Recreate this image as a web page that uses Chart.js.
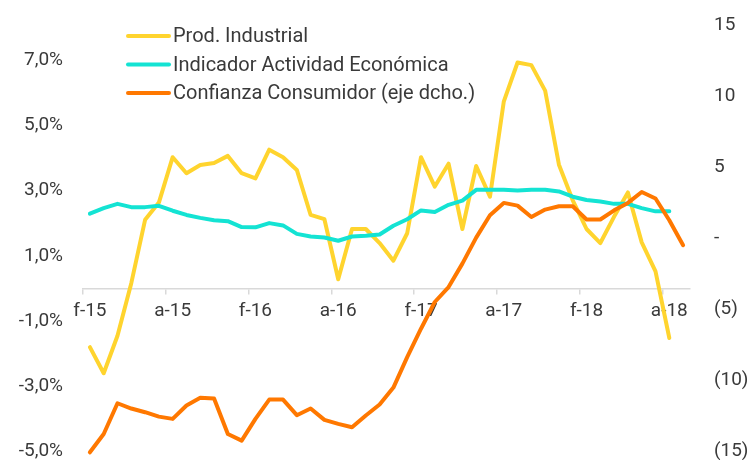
<!DOCTYPE html>
<html>
<head>
<meta charset="utf-8">
<script src="https://cdn.jsdelivr.net/npm/chart.js@4/dist/chart.umd.min.js"></script>
<style>
  html, body { margin: 0; padding: 0; background: #fff; overflow: hidden; }
  #wrap { position: relative; width: 753px; height: 460px; }
</style>
</head>
<body>
<div id="wrap"><canvas id="c" width="753" height="460"></canvas></div>
<script>
const categories = [
  'f-15','m-15','a-15','m-15','j-15','j-15','a-15','s-15','o-15','n-15','d-15',
  'e-16','f-16','m-16','a-16','m-16','j-16','j-16','a-16','s-16','o-16','n-16','d-16',
  'e-17','f-17','m-17','a-17','m-17','j-17','j-17','a-17','s-17','o-17','n-17','d-17',
  'e-18','f-18','m-18','a-18','m-18','j-18','j-18','a-18','s-18'
];
const prodIndustrial = [
  -1.8, -2.6, -1.45, 0.16, 2.1, 2.63, 4.02, 3.53, 3.78, 3.84, 4.06, 3.53, 3.37,
  4.25, 4.02, 3.63, 2.25, 2.12, 0.28, 1.82, 1.82, 1.39, 0.85, 1.69, 4.02, 3.12,
  3.82, 1.82, 3.75, 2.81, 5.72, 6.92, 6.84, 6.06, 3.79, 2.7, 1.82, 1.39, 2.2,
  2.94, 1.41, 0.52, -1.52, null
];
const actividadEconomica = [
  2.29, 2.46, 2.59, 2.49, 2.49, 2.53, 2.38, 2.25, 2.16, 2.09, 2.06, 1.88, 1.87,
  2.0, 1.93, 1.67, 1.59, 1.56, 1.46, 1.59, 1.61, 1.65, 1.92, 2.12, 2.39, 2.34,
  2.56, 2.69, 3.02, 3.02, 3.02, 3.0, 3.02, 3.02, 2.97, 2.81, 2.71, 2.66, 2.59,
  2.59, 2.46, 2.36, 2.36, null
];
const confianzaConsumidor = [
  -15.05, -13.76, -11.6, -11.97, -12.23, -12.54, -12.7, -11.76, -11.22, -11.27,
  -13.76, -14.23, -12.7, -11.34, -11.34, -12.44, -11.97, -12.77, -13.05, -13.29,
  -12.46, -11.69, -10.5, -8.36, -6.36, -4.48, -3.43, -1.78, 0.05, 1.62, 2.49,
  2.3, 1.5, 2.02, 2.25, 2.25, 1.32, 1.32, 1.97, 2.49, 3.26, 2.8, 1.27, -0.49
];
const leftTicks = [-5, -3, -1, 1, 3, 5, 7];
const rightTicks = [-15, -10, -5, 0, 5, 10, 15];
const seriesNames = ['Prod. Industrial', 'Indicador Actividad Económica', 'Confianza Consumidor (eje dcho.)'];
const seriesColors = ['#FFD42E', '#14E3D3', '#FF7800'];

const FONT = 'Roboto, "DejaVu Sans", sans-serif';
const TEXT = '#3a3a3a';

const legendPlugin = {
  id: 'insideLegend',
  afterDraw(chart) {
    const ctx = chart.ctx;
    ctx.save();
    ctx.font = '20px ' + FONT;
    ctx.textBaseline = 'middle';
    ctx.textAlign = 'left';
    const rows = [36, 64.5, 93];
    chart.data.datasets.forEach((ds, i) => {
      const y = rows[i];
      ctx.strokeStyle = ds.borderColor;
      ctx.lineWidth = 4;
      ctx.lineCap = 'round';
      ctx.beginPath();
      ctx.moveTo(128, y);
      ctx.lineTo(169, y);
      ctx.stroke();
      ctx.fillStyle = TEXT;
      ctx.fillText(ds.label, 173, y + 1);
    });
    ctx.restore();
  }
};

const lineCommon = {
  borderWidth: 4,
  pointRadius: 0,
  pointHoverRadius: 0,
  tension: 0,
  borderJoinStyle: 'round',
  borderCapStyle: 'round',
  spanGaps: false,
  clip: false
};

new Chart(document.getElementById('c'), {
  type: 'line',
  data: {
    labels: categories,
    datasets: [
      Object.assign({ label: seriesNames[0], data: prodIndustrial, borderColor: seriesColors[0], backgroundColor: seriesColors[0], yAxisID: 'y', order: 3 }, lineCommon),
      Object.assign({ label: seriesNames[1], data: actividadEconomica, borderColor: seriesColors[1], backgroundColor: seriesColors[1], yAxisID: 'y', order: 2 }, lineCommon),
      Object.assign({ label: seriesNames[2], data: confianzaConsumidor, borderColor: seriesColors[2], backgroundColor: seriesColors[2], yAxisID: 'y1', order: 1 }, lineCommon)
    ]
  },
  options: {
    responsive: false,
    animation: false,
    events: [],
    layout: { padding: { top: 25, bottom: 8.4, left: 0, right: 0 } },
    plugins: { legend: { display: false }, tooltip: { enabled: false } },
    scales: {
      x: {
        type: 'category',
        position: { y: 0 },
        offset: true,
        afterFit: (s) => { s.height = 0; },
        grid: {
          offset: true,
          drawOnChartArea: false,
          drawTicks: true,
          tickLength: 5,
          lineWidth: 1.5,
          color: (c) => (c.index % 6 === 0 && c.index <= 42) ? '#d9d9d9' : 'rgba(0,0,0,0)'
        },
        border: { display: true, color: '#d9d9d9', width: 1.5 },
        ticks: {
          autoSkip: false,
          maxRotation: 0,
          minRotation: 0,
          padding: 6,
          color: TEXT,
          font: { family: FONT, size: 19 },
          callback: function (v, i) { return i % 6 === 0 ? categories[i] : ''; }
        }
      },
      y: {
        position: 'left',
        min: -5,
        max: 8.07,
        afterBuildTicks: (s) => { s.ticks = leftTicks.map(v => ({ value: v })); },
        afterFit: (s) => { s.width = 83; s.paddingTop = 0; s.paddingBottom = 0; },
        grid: { display: false, drawTicks: false },
        border: { display: false },
        ticks: {
          padding: 20,
          color: TEXT,
          font: { family: FONT, size: 19 },
          callback: (v) => v.toFixed(1).replace('.', ',') + '%'
        }
      },
      y1: {
        position: 'right',
        min: -15,
        max: 15,
        afterBuildTicks: (s) => { s.ticks = rightTicks.map(v => ({ value: v })); },
        afterFit: (s) => { s.width = 63; s.paddingTop = 0; s.paddingBottom = 0; },
        grid: { display: false, drawTicks: false },
        border: { display: false },
        ticks: {
          padding: 24,
          color: TEXT,
          font: { family: FONT, size: 19 },
          callback: (v) => v === 0 ? '-' : (v < 0 ? '(' + Math.abs(v) + ')' : String(v))
        }
      }
    }
  },
  plugins: [legendPlugin]
});
</script>
</body>
</html>
